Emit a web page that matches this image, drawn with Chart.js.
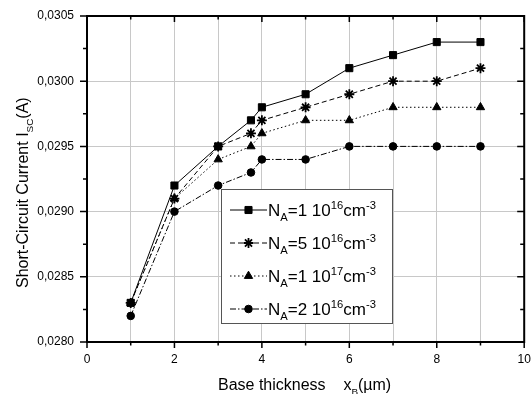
<!DOCTYPE html>
<html>
<head>
<meta charset="utf-8">
<script src="https://cdn.jsdelivr.net/npm/chart.js@4"></script>
<style>
  body { margin: 0; background: #fff; }
  #wrap { width: 531px; height: 394px; }
</style>
</head>
<body>
<div id="wrap"><canvas id="isc-chart" width="531" height="394"></canvas></div>
<script>
// base thickness (um) and short-circuit current (A) for each doping level
var thickness = [1, 2, 3, 3.75, 4, 5, 6, 7, 8, 9];
var iscNa1e16 = [0.0283, 0.0292, 0.0295, 0.0297, 0.0298, 0.0299, 0.0301, 0.0302, 0.0303, 0.0303];
var iscNa5e16 = [0.0283, 0.0291, 0.0295, 0.0296, 0.0297, 0.0298, 0.0299, 0.0300, 0.0300, 0.0301];
var iscNa1e17 = [0.0283, 0.0291, 0.0294, 0.0295, 0.0296, 0.0297, 0.0297, 0.0298, 0.0298, 0.0298];
var iscNa2e16 = [0.0282, 0.0290, 0.0292, 0.0293, 0.0294, 0.0294, 0.0295, 0.0295, 0.0295, 0.0295];

// legend text parts: mantissa, exponent
var legendParts = [['=1 10', '16'], ['=5 10', '16'], ['=1 10', '17'], ['=2 10', '16']];

var xTicks = [0, 2, 4, 6, 8, 10];
var yMin = 0.0280, yMax = 0.0305;

var FONT = '"Liberation Sans", Arial, sans-serif';

function toPoints(ys) {
	var pts = [];
	for (var i = 0; i < thickness.length; i++) {
		pts.push({ x: thickness[i], y: ys[i] });
	}
	return pts;
}

function makeSet(label, ys, dash, style, radius) {
	return {
		label: label,
		data: toPoints(ys),
		showLine: true,
		borderColor: '#000',
		backgroundColor: '#000',
		borderWidth: 1,
		borderDash: dash,
		pointStyle: style,
		pointRadius: radius,
		pointBorderWidth: style === 'star' ? 1.8 : 1,
		pointBackgroundColor: '#000',
		pointBorderColor: '#000'
	};
}

// draws text pieces with sub/superscripts, returns end x
function drawRich(ctx, parts, x, y, size, small) {
	small = small || 0.62;
	for (var i = 0; i < parts.length; i++) {
		var p = parts[i];
		var s = p.mode ? size * small : size;
		var dy = p.mode === 'sub' ? size * 0.3 : (p.mode === 'sup' ? -size * 0.42 : 0);
		ctx.font = s + 'px ' + FONT;
		ctx.fillText(p.t, x, y + dy);
		x += ctx.measureText(p.t).width;
	}
	return x;
}

var framePlugin = {
	id: 'frame',
	afterDatasetsDraw: function(chart) {
		var ctx = chart.ctx;
		var a = chart.chartArea;
		var xs = chart.scales.x, ys = chart.scales.y;
		ctx.save();
		ctx.strokeStyle = '#000';

		// tick marks
		ctx.lineWidth = 1.5;
		ctx.beginPath();
		for (var v = 0; v <= 10; v++) {
			var px = xs.getPixelForValue(v);
			var len = v % 2 === 0 ? 6 : 3.5;
			ctx.moveTo(px, a.bottom); ctx.lineTo(px, a.bottom + len);
			ctx.moveTo(px, a.top); ctx.lineTo(px, a.top + len);
		}
		for (var k = 0; k <= 10; k++) {
			var val = yMin + k * 0.00025;
			var py = ys.getPixelForValue(val);
			var l2 = k % 2 === 0 ? 7 : 4;
			ctx.moveTo(a.left, py); ctx.lineTo(a.left - l2, py);
			ctx.moveTo(a.right, py); ctx.lineTo(a.right - l2, py);
		}
		ctx.stroke();

		// axis frame
		ctx.lineWidth = 2;
		ctx.strokeRect(a.left, a.top, a.right - a.left, a.bottom - a.top);

		// legend box
		var bx = 221, by = 189, bw = 171, bh = 134;
		ctx.fillStyle = '#fff';
		ctx.fillRect(bx, by, bw, bh);
		ctx.lineWidth = 1;
		ctx.strokeStyle = '#555';
		ctx.strokeRect(bx + 0.5, by + 0.5, bw, bh);

		var rowY = [210, 243, 276, 309];
		chart.data.datasets.forEach(function(ds, i) {
			var cy = rowY[i];
			ctx.strokeStyle = '#000';
			ctx.lineWidth = 1;
			ctx.setLineDash(ds.borderDash);
			ctx.beginPath();
			ctx.moveTo(230, cy); ctx.lineTo(267, cy);
			ctx.stroke();
			ctx.setLineDash([]);
			ctx.fillStyle = '#000';
			ctx.lineWidth = ds.pointBorderWidth;
			Chart.helpers.drawPoint(ctx, {
				pointStyle: ds.pointStyle, radius: ds.pointRadius, borderWidth: ds.pointBorderWidth
			}, 248.5, cy);
			ctx.fillStyle = '#000';
			ctx.textBaseline = 'alphabetic';
			ctx.textAlign = 'left';
			drawRich(ctx, [
				{ t: 'N' }, { t: 'A', mode: 'sub' }, { t: legendParts[i][0] },
				{ t: legendParts[i][1], mode: 'sup' }, { t: 'cm' }, { t: '-3', mode: 'sup' }
			], 268, cy + 6, 17, 0.66);
		});

		// axis titles
		ctx.fillStyle = '#000';
		drawRich(ctx, [{ t: 'Base thickness    x' }, { t: 'B', mode: 'sub' }, { t: '(\u00b5m)' }], 218, 390, 16);

		ctx.translate(28, 288);
		ctx.rotate(-Math.PI / 2);
		drawRich(ctx, [{ t: 'Short-Circuit Current I' }, { t: 'SC', mode: 'sub' }, { t: '(A)' }], 0, 0, 16);
		ctx.restore();
	}
};

var ctx = document.getElementById('isc-chart').getContext('2d');
var chart = new Chart(ctx, {
	type: 'scatter',
	data: {
		datasets: [
			makeSet('NA=1 10^16', iscNa1e16, [], 'rect', 5),
			makeSet('NA=5 10^16', iscNa5e16, [5, 3], 'star', 5),
			makeSet('NA=1 10^17', iscNa1e17, [1.5, 2.5], 'triangle', 4.8),
			makeSet('NA=2 10^16', iscNa2e16, [6, 2, 1.5, 2], 'circle', 3.8)
		]
	},
	options: {
		responsive: false,
		animation: false,
		layout: { padding: { top: 16, right: 4, left: 0, bottom: 0 } },
		plugins: {
			legend: { display: false },
			tooltip: { enabled: false }
		},
		scales: {
			x: {
				type: 'linear',
				min: 0,
				max: 10,
				afterFit: function(scale) {
					scale.height = 52;
					scale.paddingLeft = 0;
					scale.paddingRight = 0;
				},
				afterBuildTicks: function(scale) {
					scale.ticks = [];
					for (var v = 0; v <= 10; v++) scale.ticks.push({ value: v });
				},
				border: { display: false },
				grid: { color: '#c8c8c8', lineWidth: 1, drawTicks: false },
				ticks: {
					padding: 10,
					color: '#000',
					font: { family: FONT, size: 12 },
					maxRotation: 0,
					autoSkip: false,
					callback: function(v) { return xTicks.indexOf(v) >= 0 ? String(v) : ''; }
				}
			},
			y: {
				type: 'linear',
				min: yMin,
				max: yMax,
				afterFit: function(scale) {
					scale.width = 87;
					scale.paddingTop = 0;
					scale.paddingBottom = 0;
				},
				border: { display: false },
				grid: { color: '#c8c8c8', lineWidth: 1, drawTicks: false },
				ticks: {
					stepSize: 0.0005,
					padding: 13,
					color: '#000',
					font: { family: FONT, size: 12 },
					callback: function(v) { return v.toFixed(4).replace('.', ','); }
				}
			}
		}
	},
	plugins: [framePlugin]
});
</script>
</body>
</html>
